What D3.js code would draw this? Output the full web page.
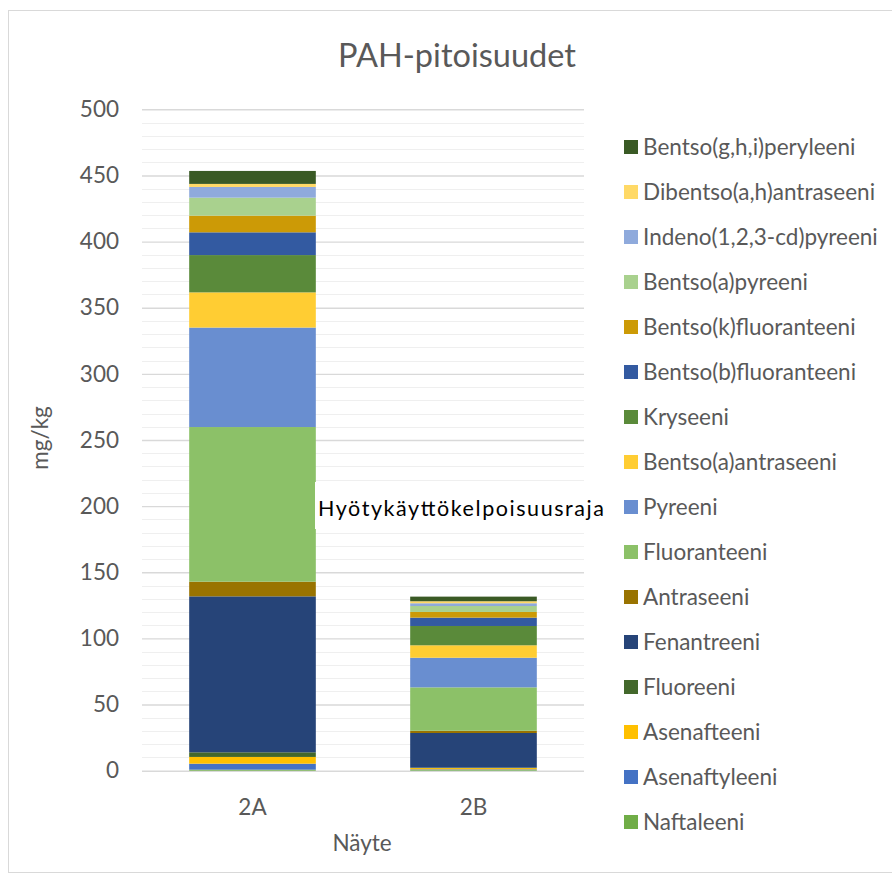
<!DOCTYPE html>
<html>
<head>
<meta charset="utf-8">
<script src="https://cdn.jsdelivr.net/npm/d3@7"></script>
<style>
  html, body { margin: 0; padding: 0; background: #fff; }
  svg { display: block; }
  text { font-family: Lato, "Open Sans", sans-serif; }
</style>
</head>
<body>
<svg id="chart" width="892" height="881"></svg>
<script>
// Samples on the x axis
const samples = ["2A", "2B"];

// PAH compounds, stacked bottom to top
const compounds = [
  "Naftaleeni", "Asenaftyleeni", "Asenafteeni", "Fluoreeni", "Fenantreeni",
  "Antraseeni", "Fluoranteeni", "Pyreeni", "Bentso(a)antraseeni", "Kryseeni",
  "Bentso(b)fluoranteeni", "Bentso(k)fluoranteeni", "Bentso(a)pyreeni",
  "Indeno(1,2,3-cd)pyreeni", "Dibentso(a,h)antraseeni", "Bentso(g,h,i)peryleeni"
];

// Concentrations (mg/kg), same order as compounds
const values2A = [0.8, 4.5, 5.1, 3.5, 117.9, 11.1, 116.9, 75.2, 26.6, 28.2, 17.2, 12.6, 13.6, 8.1, 2.3, 9.8];
const values2B = [0.5, 0.5, 1.0, 0.3, 26.2, 1.7, 32.8, 22.4, 9.4, 14.6, 6.3, 4.3, 4.5, 2.1, 1.5, 3.5];

const compoundColors = [
  "#70AD47", "#4472C4", "#FFC000", "#43682B", "#264478",
  "#997300", "#8CC168", "#698ED0", "#FFCD33", "#5A8A3A",
  "#335AA1", "#CC9A06", "#A9D18E", "#8FAADC", "#FFD966", "#3A5A25"
];

const yTicks = [0, 50, 100, 150, 200, 250, 300, 350, 400, 450, 500];
const minorStep = 10;

const titleText = "PAH-pitoisuudet";
const yTitle = "mg/kg";
const xTitle = "Näyte";
const noteText = "Hyötykäyttökelpoisuusraja";

// ---- layout ----
const svg = d3.select("#chart");
const plot = { left: 142, right: 584, top: 109.3, bottom: 770.7 };
const textColor = "#595959";
const fontSize = 22.5;

const rows = samples.map((s, i) => {
  const r = { sample: s };
  const vals = i === 0 ? values2A : values2B;
  compounds.forEach((c, j) => { r[c] = vals[j]; });
  return r;
});

const x = d3.scaleBand()
  .domain(samples)
  .range([plot.left, plot.right])
  .paddingInner(0.427)
  .paddingOuter(0.2135);

const y = d3.scaleLinear().domain([0, 500]).range([plot.bottom, plot.top]);

const color = d3.scaleOrdinal().domain(compounds).range(compoundColors);

// outer frame
svg.append("rect")
  .attr("x", 8.5).attr("y", 10.5)
  .attr("width", 900).attr("height", 862)
  .attr("fill", "#fff").attr("stroke", "#d9d9d9").attr("stroke-width", 1);

// title
svg.append("text")
  .attr("x", 457).attr("y", 67)
  .attr("text-anchor", "middle")
  .attr("font-size", 32.5)
  .attr("fill", textColor)
  .text(titleText);

// minor gridlines
const minorTicks = d3.range(0, 501, minorStep).filter(v => v % 50 !== 0);
svg.append("g").selectAll("line").data(minorTicks).join("line")
  .attr("x1", plot.left).attr("x2", plot.right)
  .attr("y1", d => Math.round(y(d)) + 0.5).attr("y2", d => Math.round(y(d)) + 0.5)
  .attr("stroke", "#efefef").attr("stroke-width", 1);

// major gridlines + labels via axis
const yAxis = d3.axisLeft(y).tickValues(yTicks).tickSize(-(plot.right - plot.left)).tickPadding(23);
const gy = svg.append("g").attr("transform", `translate(${plot.left},0)`).call(yAxis);
gy.select(".domain").remove();
gy.selectAll(".tick line").attr("stroke", "#d9d9d9").attr("stroke-width", 1.4);
gy.selectAll(".tick text")
  .attr("font-size", fontSize)
  .attr("fill", textColor)
  .attr("font-family", "Lato, sans-serif");

// stacked bars
const stack = d3.stack().keys(compounds);
const series = stack(rows);
const bars = svg.append("g");
series.forEach(s => {
  bars.append("g").attr("fill", color(s.key))
    .selectAll("rect").data(s).join("rect")
    .attr("x", d => x(d.data.sample))
    .attr("width", x.bandwidth())
    .attr("y", d => y(d[1]))
    .attr("height", d => Math.max(0, y(d[0]) - y(d[1])));
});

// x axis labels
const xAxis = d3.axisBottom(x).tickSize(0).tickPadding(28);
const gx = svg.append("g").attr("transform", `translate(0,${plot.bottom})`).call(xAxis);
gx.select(".domain").remove();
gx.selectAll(".tick text")
  .attr("font-size", fontSize)
  .attr("fill", textColor)
  .attr("font-family", "Lato, sans-serif");

// axis titles
svg.append("text")
  .attr("x", 362).attr("y", 851)
  .attr("text-anchor", "middle")
  .attr("font-size", fontSize)
  .attr("fill", textColor)
  .text(xTitle);

svg.append("text")
  .attr("transform", "translate(48,438) rotate(-90)")
  .attr("text-anchor", "middle")
  .attr("font-size", fontSize)
  .attr("fill", textColor)
  .text(yTitle);

// annotation box
svg.append("rect")
  .attr("x", 315).attr("y", 482)
  .attr("width", 300).attr("height", 47)
  .attr("fill", "#fff");
svg.append("text")
  .attr("x", 318).attr("y", 516)
  .attr("font-size", 21.5)
  .attr("fill", "#000")
  .attr("textLength", 286)
  .attr("lengthAdjust", "spacing")
  .text(noteText);

// legend (top item = last stacked series)
const legendItems = compounds.slice().reverse();
const legend = svg.append("g").selectAll("g").data(legendItems).join("g")
  .attr("transform", (d, i) => `translate(624,${140 + i * 45})`);
legend.append("rect")
  .attr("width", 14).attr("height", 14)
  .attr("fill", d => color(d));
legend.append("text")
  .attr("x", 19).attr("y", 14.5)
  .attr("font-size", fontSize)
  .attr("fill", textColor)
  .text(d => d);
</script>
</body>
</html>
